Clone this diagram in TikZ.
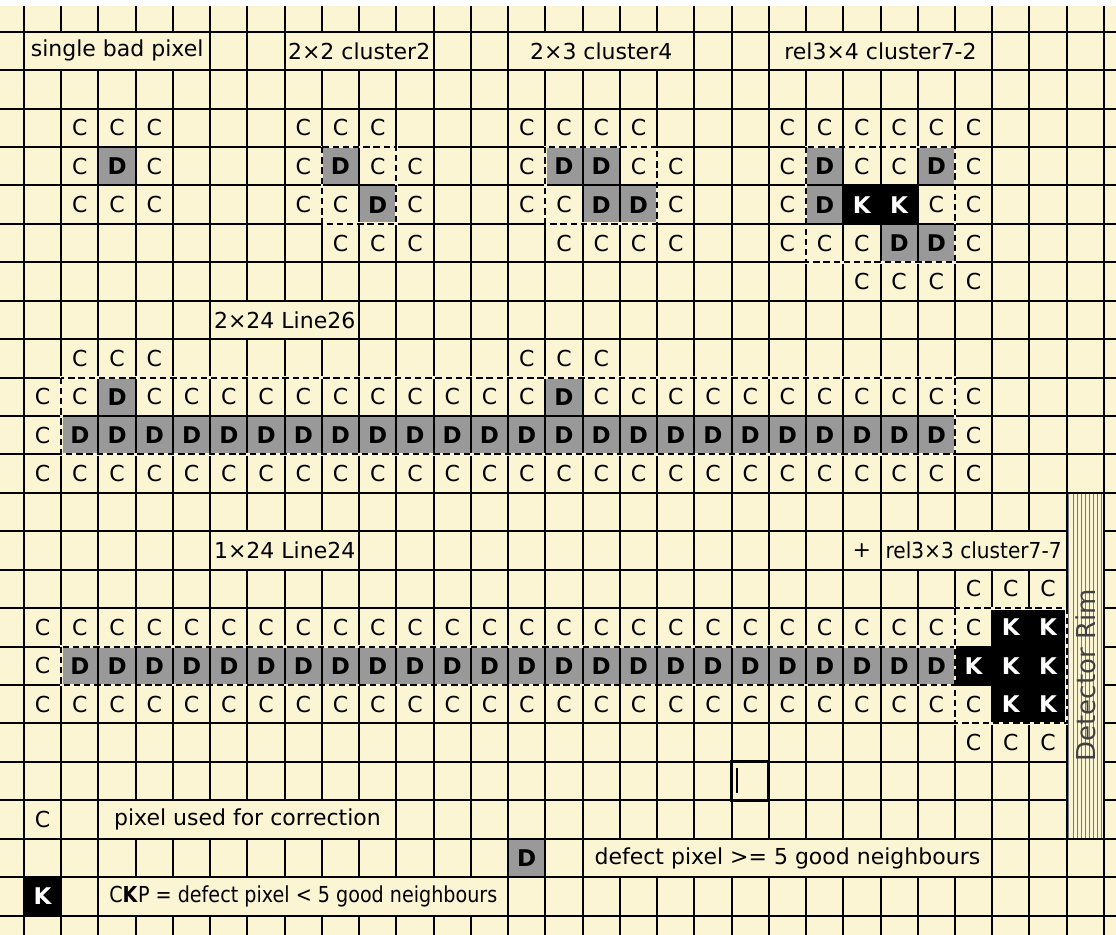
\documentclass[tikz,border=0pt]{standalone}
\usepackage{fontspec}
\setmainfont{DejaVu Sans}
\definecolor{cream}{RGB}{251,245,211}
\definecolor{dgray}{RGB}{153,153,153}
\definecolor{rimgray}{RGB}{120,120,120}
\begin{document}
\begin{tikzpicture}[x={(18.62pt,0)}, y={(0,-19.215pt)},
  font=\fontsize{11pt}{13pt}\selectfont,
  gridline/.style={line width=1pt, black},
  ctext/.style={inner sep=0pt, text=black},
  fcell/.style={minimum width=18.62pt, minimum height=19.215pt, inner sep=0pt, font=\fontsize{11.5pt}{13pt}\selectfont\bfseries},
  dcell/.style={fcell, fill=dgray, text=black},
  kcell/.style={fcell, fill=black, text=white},
  lbltext/.style={inner sep=0pt, text=black},
  dashcover/.style={cream, line width=1.4pt},
  dashline/.style={black, line width=1pt, dash pattern=on 3.2pt off 1.9pt},
]
\useasboundingbox (-0.6445,-0.8249) rectangle (29.3233,23.505);
\fill[white] (-0.6445,-0.8249) rectangle (29.3233,23.505);
\fill[cream] (-0.6445,-0.669) rectangle (29.3233,23.505);

% ---------- filled cells (D grey, K black)
\foreach \c/\r in {2/3, 8/3, 9/4, 14/3, 15/3, 15/4, 16/4, 21/3, 21/4, 23/5, 24/5, 24/3, 2/9, 14/9, 13/21}
  \node[dcell] (d-\c-\r) at (\c+0.5,\r+0.5) {D};
\foreach \c in {1,...,24} {
  \node[dcell] (d-\c-10) at (\c+0.5,10.5) {D};
  \node[dcell] (d-\c-16) at (\c+0.5,16.5) {D};
}
\foreach \c/\r in {22/4, 23/4, 25/16, 26/15, 26/16, 26/17, 27/15, 27/16, 27/17, 0/22}
  \node[kcell] (k-\c-\r) at (\c+0.5,\r+0.5) {K};

% ---------- grid
\foreach \c in {0,...,29} \draw[gridline] (\c,-0.669) -- (\c,23.505);
\foreach \r in {0,...,23} \draw[gridline] (-0.6445,\r) -- (29.3233,\r);

% ---------- C cells
\foreach \c/\r in {1/2,2/2,3/2, 1/3,3/3, 1/4,2/4,3/4,
  7/2,8/2,9/2, 7/3,9/3,10/3, 7/4,8/4,10/4, 8/5,9/5,10/5,
  13/2,14/2,15/2,16/2, 13/3,16/3,17/3, 13/4,14/4,17/4, 14/5,15/5,16/5,17/5,
  20/2,21/2,22/2,23/2,24/2,25/2, 20/3,22/3,23/3,25/3, 20/4,24/4,25/4,
  20/5,21/5,22/5,25/5, 22/6,23/6,24/6,25/6,
  1/8,2/8,3/8,13/8,14/8,15/8, 0/9,1/9, 0/10,25/10, 0/16,
  25/14,26/14,27/14, 25/18,26/18,27/18, 0/20}
  \node[ctext] (c-\c-\r) at (\c+0.5,\r+0.5) {C};
\foreach \c in {3,...,13} \node[ctext] (c-\c-9) at (\c+0.5,9.5) {C};
\foreach \c in {15,...,25} \node[ctext] (c-\c-9) at (\c+0.5,9.5) {C};
\foreach \c in {0,...,25} {
  \node[ctext] (c-\c-11) at (\c+0.5,11.5) {C};
  \node[ctext] (c-\c-15) at (\c+0.5,15.5) {C};
  \node[ctext] (c-\c-17) at (\c+0.5,17.5) {C};
}
\node[ctext] (plus) at (22.5,13.5) {+};

% ---------- dashed cluster borders
\foreach \a/\b in {{(8,3)}/{(10,5)}, {(14,3)}/{(17,5)}, {(21,3)}/{(25,6)},
                   {(1,9)}/{(25,11)}, {(1,16)}/{(25,17)}, {(25,15)}/{(28,18)}} {
  \draw[dashcover] \a rectangle \b;
  \draw[dashline] \a rectangle \b;
}

% ---------- labels
\newcommand{\lbl}[6]{%
  \fill[cream] (#2+0.027,#3+0.027) rectangle (#4-0.027,#5-0.027);
  \node[lbltext] (#1) at ({(#2+#4)/2},{(#3+#5)/2}) {#6};}
\lbl{l-single}{0}{0}{5}{1}{single bad pixel}
\lbl{l-c2}{7}{0}{11}{1}{2×2 cluster2}
\lbl{l-c4}{13}{0}{18}{1}{2×3 cluster4}
\lbl{l-c72}{20}{0}{26}{1}{rel3×4 cluster7-2}
\lbl{l-l26}{5}{7}{9}{8}{2×24 Line26}
\lbl{l-l24}{5}{13}{9}{14}{1×24 Line24}
\lbl{l-c77}{23}{13}{28}{14}{\scalebox{0.915}[1]{rel3×3 cluster7-7}}
\lbl{l-leg1}{2}{20}{10}{21}{pixel used for correction}
\lbl{l-leg2}{15}{21}{26}{22}{defect pixel >= 5 good neighbours}
\lbl{l-leg3}{2}{22}{13}{23}{\scalebox{0.87}[1]{C\textbf{K}P = defect pixel < 5 good neighbours}}

% ---------- small box artefact
\draw[black, line width=0.8pt] (18.97,18.97) rectangle (19.98,20.03);
\draw[black, line width=0.9pt] (19.15,19.15) -- (19.15,19.8);

% ---------- detector rim
\fill[cream] (28.03,12.027) rectangle (28.97,20.973);
\foreach \i in {0,...,8}
  \draw[rimgray, line width=0.5pt] (28.06+\i*0.11,12.027) -- (28.06+\i*0.11,20.973);
\node[rotate=90, inner sep=0pt, text=black!75, font=\fontsize{13pt}{15pt}\selectfont] (rim) at (28.5,16.75) {Detector Rim};
\end{tikzpicture}
\end{document}
